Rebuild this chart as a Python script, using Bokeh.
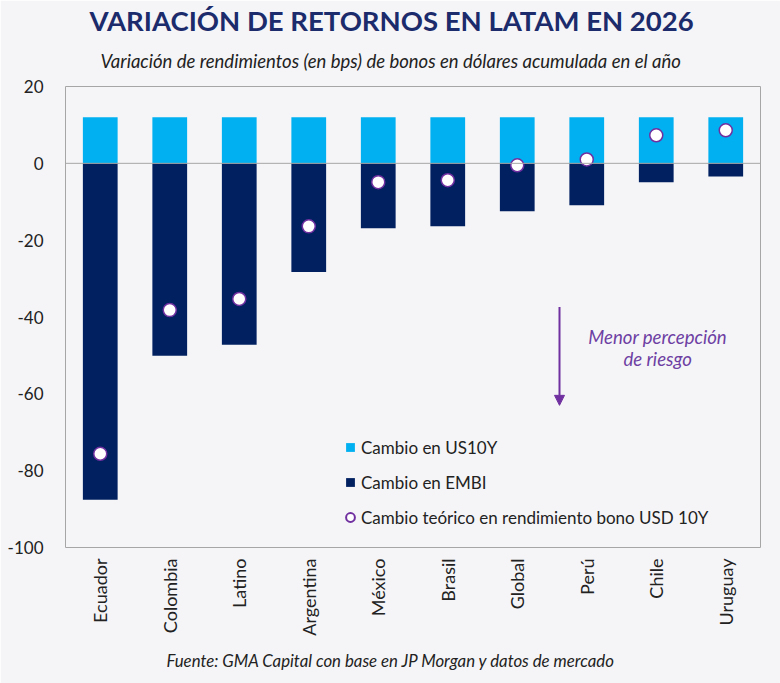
import math
from bokeh.plotting import figure
from bokeh.models import (Title, Span, Arrow, NormalHead, Label, Legend, LegendItem,
                          ColumnDataSource, FactorRange, Range1d, FixedTicker)
from bokeh.embed import file_html
from bokeh.resources import INLINE

# ---- data ----
countries = ["Ecuador", "Colombia", "Latino", "Argentina", "México",
             "Brasil", "Global", "Perú", "Chile", "Uruguay"]
cambio_us10y = [12.0, 12.0, 12.0, 12.0, 12.0, 12.0, 12.0, 12.0, 12.0, 12.0]
cambio_embi = [-87.6, -50.1, -47.2, -28.3, -16.9, -16.4, -12.5, -10.9, -4.9, -3.4]
cambio_teorico = [-75.6, -38.2, -35.3, -16.4, -4.9, -4.4, -0.5, 1.0, 7.3, 8.6]
y_ticks = [-100, -80, -60, -40, -20, 0, 20]

title_text = "VARIACIÓN DE RETORNOS EN LATAM EN 2026"
subtitle_text = "Variación de rendimientos (en bps) de bonos en dólares acumulada en el año"
source_text = "Fuente: GMA Capital con base en JP Morgan y datos de mercado"
legend_labels = ["Cambio en US10Y", "Cambio en EMBI",
                 "Cambio teórico en rendimiento bono USD 10Y"]
note_lines = ["Menor percepción", "de riesgo"]

# ---- style ----
BG = "#F5F5F7"
LIGHT = "#00B0F0"
NAVY = "#002060"
PURPLE = "#7030A0"
NOTE_C = "#6E3FA3"
TITLE_C = "#1B2B6B"
TXT = "#222222"
FRAME = "#A6A6A6"
FONT = "Lato"

src = ColumnDataSource(dict(c=countries, us=cambio_us10y, embi=cambio_embi,
                            t=cambio_teorico, zero=[0] * len(countries),
                            nan=[float("nan")] * len(countries)))

p = figure(width=780, height=683, x_range=FactorRange(*countries),
           y_range=Range1d(-100, 20), output_backend="svg", toolbar_location=None,
           min_border_left=65, min_border_right=20, min_border_top=86,
           min_border_bottom=135)
p.background_fill_color = BG
p.border_fill_color = BG
p.outline_line_color = FRAME
p.outline_line_width = 1
p.xgrid.grid_line_color = None
p.ygrid.grid_line_color = None

p.vbar(x="c", top="us", bottom="zero", width=0.5, source=src,
       fill_color=LIGHT, line_color=None)
p.vbar(x="c", top="zero", bottom="embi", width=0.5, source=src,
       fill_color=NAVY, line_color=None)
p.add_layout(Span(location=0, dimension="width", line_color=FRAME, line_width=1))
p.scatter(x="c", y="t", size=13, source=src, fill_color="white",
          line_color=PURPLE, line_width=1.5)
# legend-only markers (no visible points)
r_leg_us = p.scatter(x="c", y="nan", marker="square", source=src,
                     fill_color=LIGHT, line_color=None)
r_leg_embi = p.scatter(x="c", y="nan", marker="square", source=src,
                       fill_color=NAVY, line_color=None)
r_leg_t = p.scatter(x="c", y="nan", marker="circle", source=src,
                    fill_color="white", line_color=PURPLE, line_width=2)

# axes
p.yaxis.ticker = FixedTicker(ticks=y_ticks)
p.yaxis.major_label_overrides = {t: str(t) for t in y_ticks}
for ax in (p.xaxis, p.yaxis):
    ax.axis_line_color = None
    ax.major_tick_line_color = None
    ax.minor_tick_line_color = None
    ax.major_label_text_font = FONT
    ax.major_label_text_color = TXT
p.yaxis.major_label_text_font_size = "17px"
p.yaxis.major_label_standoff = 16
p.xaxis.major_label_text_font_size = "18px"
p.xaxis.major_label_orientation = math.pi / 2
p.xaxis.major_label_standoff = 5

# legend
legend = Legend(items=[
    LegendItem(label=legend_labels[0], renderers=[r_leg_us]),
    LegendItem(label=legend_labels[1], renderers=[r_leg_embi]),
    LegendItem(label=legend_labels[2], renderers=[r_leg_t]),
], location=(274, 19), orientation="vertical")
legend.background_fill_alpha = 0
legend.border_line_color = None
legend.padding = 0
legend.margin = 0
legend.glyph_width = 22
legend.glyph_height = 22
legend.label_height = 22
legend.spacing = 13
legend.label_standoff = 0
legend.label_text_font = FONT
legend.label_text_font_size = "17px"
legend.label_text_color = TXT
p.add_layout(legend, "center")

# annotation
p.add_layout(Arrow(end=NormalHead(size=10, fill_color=PURPLE, line_color=PURPLE),
                   x_start=7.108, y_start=-37.4, x_end=7.108, y_end=-63.0,
                   line_color=PURPLE, line_width=2))
for txt, yy in zip(note_lines, (-45.2, -50.9)):
    p.add_layout(Label(x=8.52, y=yy, text=txt, text_align="center",
                       text_baseline="middle", text_font=FONT,
                       text_font_style="italic", text_font_size="18.6px",
                       text_color=NOTE_C))

# titles
p.add_layout(Title(text=subtitle_text, align="left", offset=35,
                   text_font=FONT, text_font_style="italic",
                   text_font_size="18.5px", text_color=TXT, standoff=30), "above")
p.add_layout(Title(text=title_text, align="left", offset=24,
                   text_font=FONT, text_font_style="bold",
                   text_font_size="27.5px", text_color=TITLE_C, standoff=-9), "above")
p.add_layout(Title(text=source_text, align="left", offset=101,
                   text_font=FONT, text_font_style="italic", vertical_align="top",
                   text_font_size="16.8px", text_color=TXT, standoff=22), "below")

open("out.html", "w").write(file_html(p, INLINE))
